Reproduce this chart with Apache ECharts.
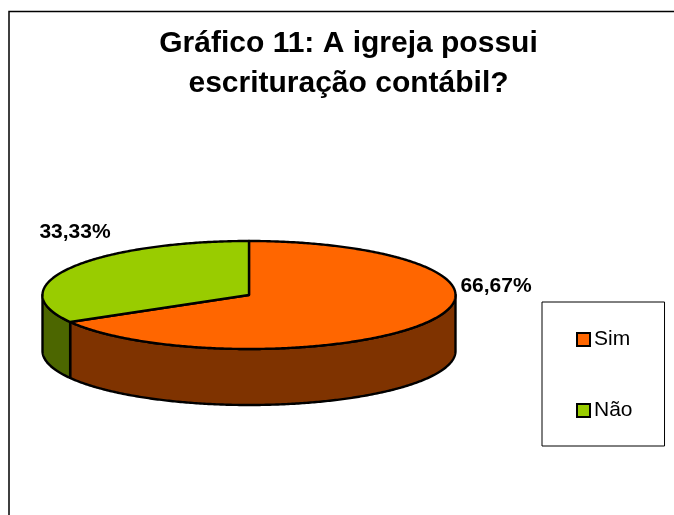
<!DOCTYPE html>
<html>
<head>
<meta charset="utf-8">
<title>Gráfico 11</title>
<script src="https://cdn.jsdelivr.net/npm/echarts@6/dist/echarts.min.js"></script>
<style>
  html, body { margin: 0; padding: 0; background: #fff; }
  #chart { width: 674px; height: 515px; }
</style>
</head>
<body>
<div id="chart"></div>
<script>
const categories = ['Sim', 'Não']
const values = [66.67, 33.33]
const topColors = ['#FF6600', '#99CC00']
const sideColors = ['#7F3300', '#4C6600']

// the tilted pie: ellipse centre, radii, wall height
const pie = { cx: 249, cy: 295, rx: 206.5, ry: 54, depth: 56 }
const labelPos = [[496, 286], [75, 232]]
const font = 'Liberation Sans, Arial, sans-serif'

const total = values.reduce((a, b) => a + b, 0)

// angle runs clockwise from 12 o'clock, in radians
const ellipsePoint = (a, dy = 0) => [
  pie.cx + pie.rx * Math.sin(a),
  pie.cy - pie.ry * Math.cos(a) + dy
]

const arcPoints = (from, to, dy = 0) => {
  const steps = Math.max(2, Math.ceil((to - from) / 0.01))
  const pts = []
  for (let i = 0; i <= steps; i++) {
    pts.push(ellipsePoint(from + (to - from) * i / steps, dy))
  }
  return pts
}

const lineStyle = { stroke: '#000', lineWidth: 2.4, lineJoin: 'round' }

const renderSlice = (index) => (params, api) => {
  const value = api.value(0)
  const before = values.slice(0, index).reduce((a, b) => a + b, 0)
  const start = before / total * Math.PI * 2
  const end = (before + value) / total * Math.PI * 2
  const children = []

  // only the part of the rim facing the viewer gets a wall
  const wallFrom = Math.max(start, Math.PI / 2)
  const wallTo = Math.min(end, Math.PI * 1.5)
  if (wallTo > wallFrom) {
    children.push({
      type: 'polygon',
      shape: {
        points: arcPoints(wallFrom, wallTo).concat(arcPoints(wallFrom, wallTo, pie.depth).reverse())
      },
      style: { fill: sideColors[index], ...lineStyle }
    })
  }
  children.push({
    type: 'polygon',
    shape: { points: [[pie.cx, pie.cy]].concat(arcPoints(start, end)) },
    style: { fill: topColors[index], ...lineStyle }
  })
  children.push({
    type: 'text',
    style: {
      x: labelPos[index][0],
      y: labelPos[index][1],
      text: value.toFixed(2).replace('.', ',') + '%',
      fill: '#000',
      font: 'bold 21px ' + font,
      align: 'center',
      verticalAlign: 'middle'
    }
  })
  return { type: 'group', children }
}

const chart = echarts.init(document.getElementById('chart'))
chart.setOption({
  animation: false,
  backgroundColor: '#fff',
  title: {
    text: 'Gráfico 11: A igreja possui\nescrituração contábil?',
    left: 343.5,
    top: 18.5,
    textAlign: 'center',
    textStyle: { color: '#000', fontFamily: font, fontWeight: 'bold', fontSize: 30, lineHeight: 40 }
  },
  legend: {
    orient: 'vertical',
    left: 542,
    top: 302,
    data: categories,
    icon: 'rect',
    itemWidth: 13,
    itemHeight: 13,
    itemGap: 50,
    padding: [27, 32, 25, 34],
    borderColor: '#000',
    borderWidth: 1,
    selectedMode: false,
    itemStyle: { borderColor: '#000', borderWidth: 2 },
    textStyle: { color: '#000', fontFamily: font, fontSize: 21, padding: [0, 0, 0, -1] }
  },
  graphic: [
    {
      type: 'polyline',
      silent: true,
      shape: { points: [[9, 515], [9, 11.5], [674, 11.5]] },
      style: { stroke: '#000', lineWidth: 1.5, fill: null }
    }
  ],
  series: categories.map((name, i) => ({
    type: 'custom',
    name,
    coordinateSystem: 'none',
    silent: true,
    itemStyle: { color: topColors[i] },
    renderItem: renderSlice(i),
    data: [[values[i]]]
  }))
})
</script>
</body>
</html>
